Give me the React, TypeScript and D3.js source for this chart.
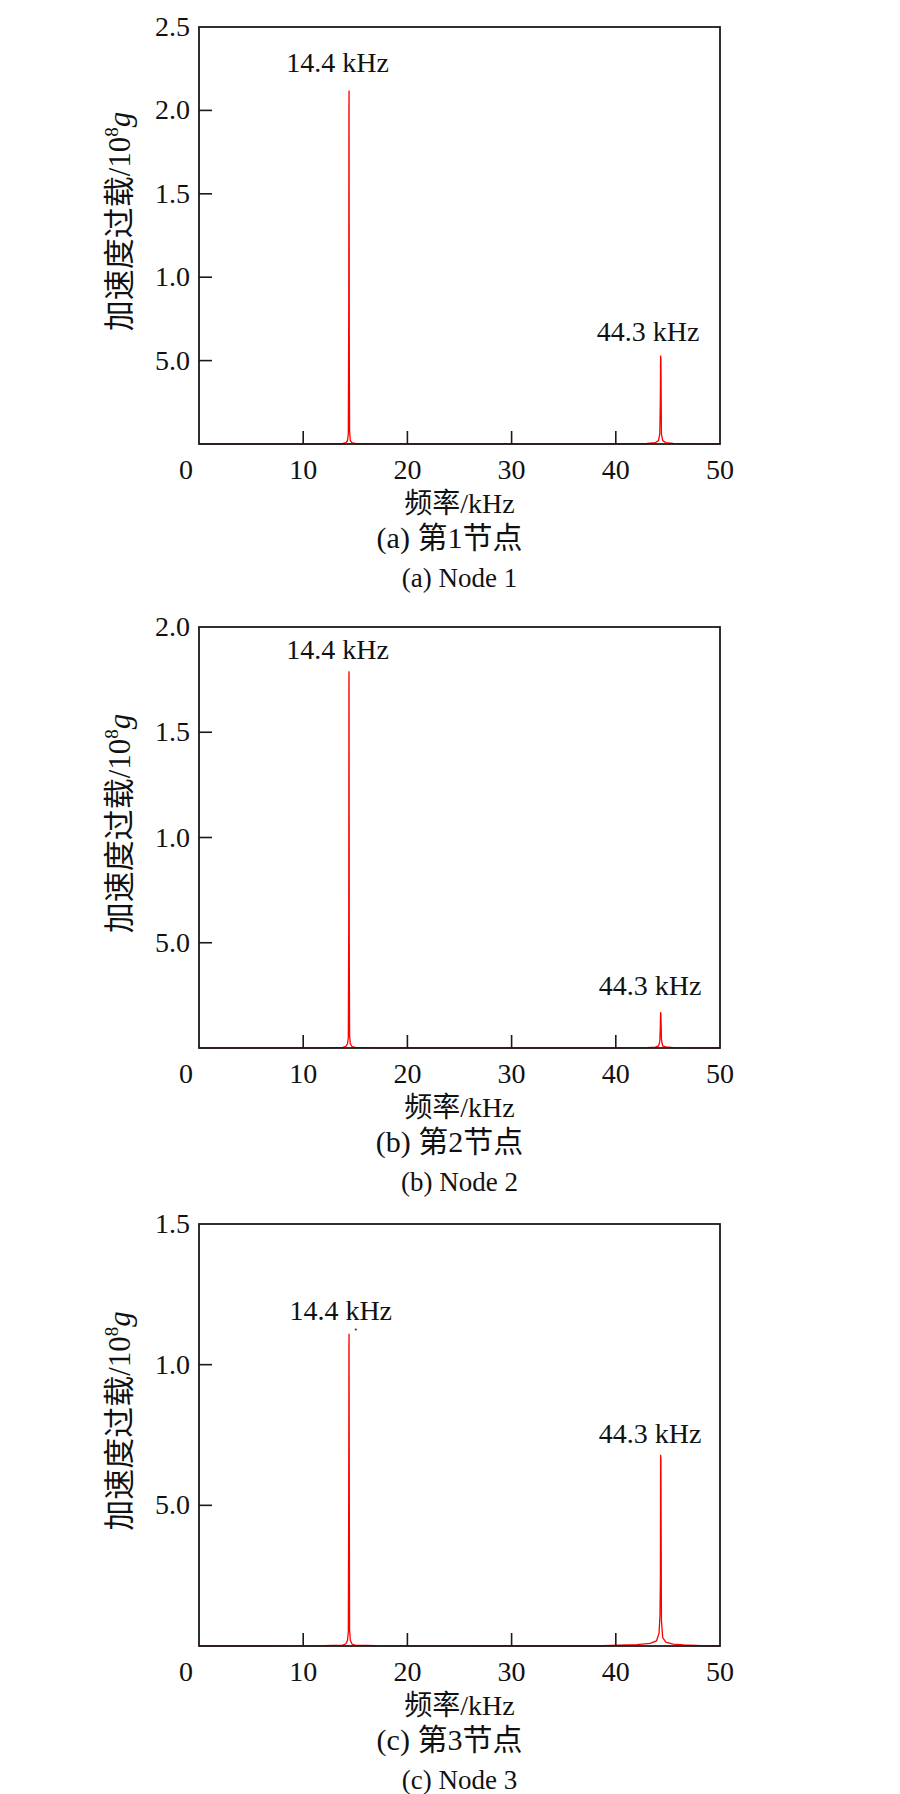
import React from 'react';
import * as d3 from 'd3';

// ---------- data ----------
const xTickValues = [10, 20, 30, 40];
const xTickLabels = [0, 10, 20, 30, 40, 50];

const node1Freq = [0, 12.0, 13.8, 14.1, 14.25, 14.33, 14.37, 14.39, 14.4, 14.42, 14.45, 14.52, 14.7, 15.0, 17.0, 40.0, 43.0, 43.8, 44.1, 44.22, 44.27, 44.3, 44.33, 44.38, 44.5, 44.8, 45.5, 48.0, 50];
const node1Amp = [0, 0.001, 0.003, 0.008, 0.02, 0.06, 0.79, 2.0, 2.12, 0.66, 0.08, 0.02, 0.007, 0.003, 0.001, 0.001, 0.003, 0.008, 0.02, 0.06, 0.23, 0.53, 0.51, 0.06, 0.02, 0.008, 0.004, 0.001, 0];

const node2Freq = [0, 12.0, 13.8, 14.1, 14.25, 14.33, 14.37, 14.39, 14.4, 14.42, 14.45, 14.52, 14.7, 15.0, 17.0, 40.0, 43.0, 43.8, 44.1, 44.22, 44.27, 44.3, 44.33, 44.38, 44.5, 44.8, 45.5, 48.0, 50];
const node2Amp = [0, 0.001, 0.003, 0.008, 0.02, 0.05, 0.59, 1.76, 1.79, 0.5, 0.06, 0.02, 0.006, 0.003, 0.001, 0.001, 0.002, 0.004, 0.01, 0.03, 0.09, 0.17, 0.16, 0.04, 0.01, 0.005, 0.002, 0.001, 0];

const node3Freq = [0, 12.0, 13.8, 14.1, 14.25, 14.33, 14.36, 14.38, 14.39, 14.4, 14.42, 14.45, 14.52, 14.7, 15.0, 17.0, 38.0, 40.3, 42.0, 43.3, 43.9, 44.15, 44.24, 44.28, 44.3, 44.33, 44.38, 44.5, 44.8, 45.5, 46.5, 48.2, 50];
const node3Amp = [0, 0.001, 0.003, 0.008, 0.02, 0.05, 0.42, 0.8, 1.06, 1.11, 0.63, 0.06, 0.02, 0.006, 0.003, 0.001, 0, 0.003, 0.005, 0.009, 0.018, 0.045, 0.11, 0.24, 0.68, 0.66, 0.09, 0.03, 0.014, 0.007, 0.004, 0.0015, 0];

const node1YTicks = [0.5, 1.0, 1.5, 2.0, 2.5];
const node1YLabels = ['5.0', '1.0', '1.5', '2.0', '2.5'];
const node2YTicks = [0.5, 1.0, 1.5, 2.0];
const node2YLabels = ['5.0', '1.0', '1.5', '2.0'];
const node3YTicks = [0.5, 1.0, 1.5];
const node3YLabels = ['5.0', '1.0', '1.5'];

const peakLabels = ['14.4 kHz', '44.3 kHz'];
const node1PeakAnchors = [[13.3, 2.23], [43.1, 0.62]];
const node2PeakAnchors = [[13.3, 1.85], [43.3, 0.25]];
const node3PeakAnchors = [[13.6, 1.16], [43.3, 0.72]];

const captionsCn = ['(a) 第1节点', '(b) 第2节点', '(c) 第3节点'];
const captionsEn = ['(a) Node 1', '(b) Node 2', '(c) Node 3'];

// ---------- layout ----------
const W = 900;
const H = 1794;
const left = 199;
const right = 720;
const panelBoxes = [
  { top: 27, bottom: 444 },
  { top: 627, bottom: 1048 },
  { top: 1224, bottom: 1646 },
];

const panels = [
  { freq: node1Freq, amp: node1Amp, yMax: 2.5, yTicks: node1YTicks, yLabels: node1YLabels, anchors: node1PeakAnchors },
  { freq: node2Freq, amp: node2Amp, yMax: 2.0, yTicks: node2YTicks, yLabels: node2YLabels, anchors: node2PeakAnchors },
  { freq: node3Freq, amp: node3Amp, yMax: 1.5, yTicks: node3YTicks, yLabels: node3YLabels, anchors: node3PeakAnchors },
];

const serif = '"Liberation Serif", "Times New Roman", serif';
const cjk = '"Liberation Serif", "Noto Sans CJK SC", serif';
const FS = 28;

function Panel({ idx }: { idx: number }) {
  const p = panels[idx];
  const box = panelBoxes[idx];
  const x = d3.scaleLinear().domain([0, 50]).range([left, right]);
  const y = d3.scaleLinear().domain([0, p.yMax]).range([box.bottom, box.top]);
  const line = d3
    .line<number>()
    .x((_, i) => x(p.freq[i]))
    .y((d) => y(d));
  const tickLen = 13;
  const cy = (box.top + box.bottom) / 2;
  return (
    <g>
      <path d={line(p.amp) || ''} fill="none" stroke="#ff0000" strokeWidth={1.3} />
      {idx === 2 && <circle cx={x(15.05)} cy={y(1.125)} r={1.1} fill="#333" />}
      {/* frame */}
      <rect x={left} y={box.top} width={right - left} height={box.bottom - box.top} fill="none" stroke="#1a1a1a" strokeWidth={1.8} />
      {/* x ticks */}
      {xTickValues.map((v) => (
        <line key={'xt' + v} x1={x(v)} x2={x(v)} y1={box.bottom} y2={box.bottom - tickLen} stroke="#1a1a1a" strokeWidth={1.6} />
      ))}
      {xTickLabels.map((v) => (
        <text key={'xl' + v} x={x(v) - (v === 0 ? 13 : 0)} y={box.bottom + 35} textAnchor="middle" fontFamily={serif} fontSize={FS} fill="#111">
          {v}
        </text>
      ))}
      {/* y ticks */}
      {p.yTicks.map((v, i) => (
        <g key={'yt' + v}>
          {v < p.yMax && (
            <line x1={left} x2={left + tickLen} y1={y(v)} y2={y(v)} stroke="#1a1a1a" strokeWidth={1.6} />
          )}
          <text x={left - 9} y={y(v) + 9} textAnchor="end" fontFamily={serif} fontSize={FS} fill="#111">
            {p.yLabels[i]}
          </text>
        </g>
      ))}
      {/* peak labels */}
      {p.anchors.map((a, i) => (
        <text key={'pk' + i} x={x(a[0])} y={y(a[1])} textAnchor="middle" fontFamily={serif} fontSize={FS} fill="#111">
          {peakLabels[i]}
        </text>
      ))}
      {/* y label */}
      <text transform={`translate(${130},${cy - 14}) rotate(-90)`} textAnchor="middle" fontFamily={cjk} fontSize={31} fill="#111">
        加速度过载/10<tspan fontSize={19} dy={-12}>8</tspan>
        <tspan dy={12} fontStyle="italic">g</tspan>
      </text>
      {/* x label */}
      <text x={(left + right) / 2} y={box.bottom + 69} textAnchor="middle" fontFamily={cjk} fontSize={FS} fill="#111">
        频率/kHz
      </text>
      <text x={(left + right) / 2 - 10} y={box.bottom + 104} textAnchor="middle" fontFamily={cjk} fontSize={30} fill="#111">
        {captionsCn[idx]}
      </text>
      <text x={(left + right) / 2} y={box.bottom + 143} textAnchor="middle" fontFamily={serif} fontSize={FS - 1} fill="#111">
        {captionsEn[idx]}
      </text>
    </g>
  );
}

export default function App() {
  return (
    <svg width={W} height={H} style={{ position: 'absolute', left: 0, top: 0, background: '#fff' }}>
      <rect x={0} y={0} width={W} height={H} fill="#fff" />
      {panels.map((_, i) => (
        <Panel key={i} idx={i} />
      ))}
    </svg>
  );
}
